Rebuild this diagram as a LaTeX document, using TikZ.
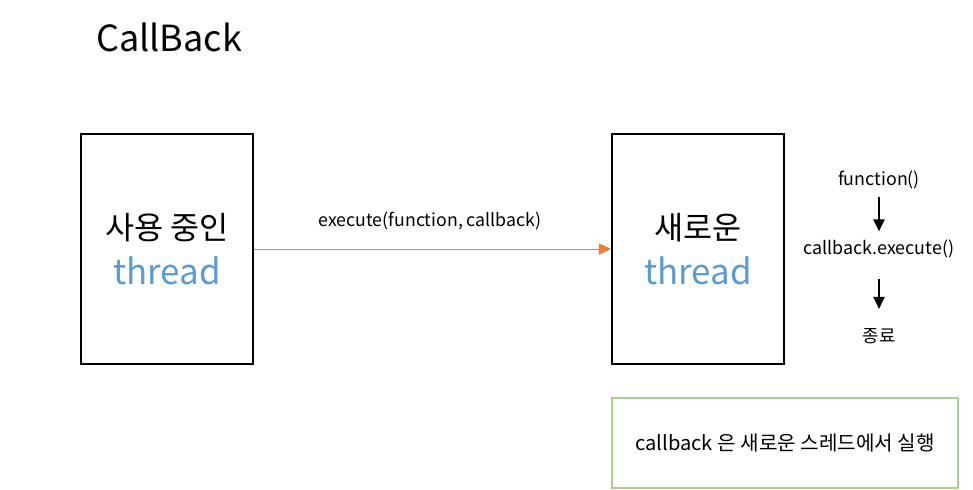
\documentclass[tikz,border=0pt]{standalone}
\usepackage{fontspec}
\setmainfont{Noto Sans CJK KR}
\usepackage{tikz}
\usetikzlibrary{arrows.meta, positioning}
\definecolor{threadblue}{RGB}{91,155,213}
\definecolor{callorange}{RGB}{237,125,49}
\definecolor{notegreen}{RGB}{169,209,142}

\begin{document}
\begin{tikzpicture}[x=0.025cm, y=-0.025cm,
      thbox/.style={rectangle, draw=black, line width=1.5pt,
                    minimum width=4.3cm, minimum height=5.75cm,
                    font=\fontsize{22.5pt}{32pt}\selectfont, align=center},
      note/.style={rectangle, draw=notegreen, line width=1.5pt,
                   minimum width=8.65cm, minimum height=2.25cm,
                   font=\fontsize{14.3pt}{16pt}\selectfont},
      stepnode/.style={inner sep=0pt, minimum height=0.85cm,
                   font=\fontsize{12.7pt}{15pt}\selectfont},
      lbl/.style={font=\fontsize{12.6pt}{15pt}\selectfont},
      oarr/.style={-{Triangle[length=8.5pt, width=8pt]}, line width=0.7pt, color=callorange},
      darr/.style={-{Triangle[length=8.5pt, width=8pt]}, line width=1pt, color=black}
    ]
      \useasboundingbox (0,0) rectangle (973,489);
      \node[font=\fontsize{25.6pt}{32pt}\selectfont] (title) at (169,37) {CallBack};
      \node[thbox] (cur) at (167,249) {사용 중인\\\textcolor{threadblue}{\fontsize{24.8pt}{32pt}\selectfont thread}};
      \node[thbox] (new) at (698,249) {새로운\\\textcolor{threadblue}{\fontsize{24.8pt}{32pt}\selectfont thread}};
      \draw[oarr] (cur) -- (new);
      \node[lbl] (exec) at (430,221) {execute(function, callback)};
      % what the new thread runs
      \node[stepnode] (fn) at (879,180) {function()};
      \node[stepnode, below=0.85cm of fn] (cb) {callback.execute()};
      \node[stepnode, below=1.325cm of cb] (done) {종료};
      \draw[darr] (fn) -- (cb);
      \draw[darr, shorten <=0.325cm, shorten >=0.25cm] (cb) -- (done);
      \node[note] (msg) at (785,443) {callback 은 새로운 스레드에서 실행};
    \end{tikzpicture}
\end{document}
